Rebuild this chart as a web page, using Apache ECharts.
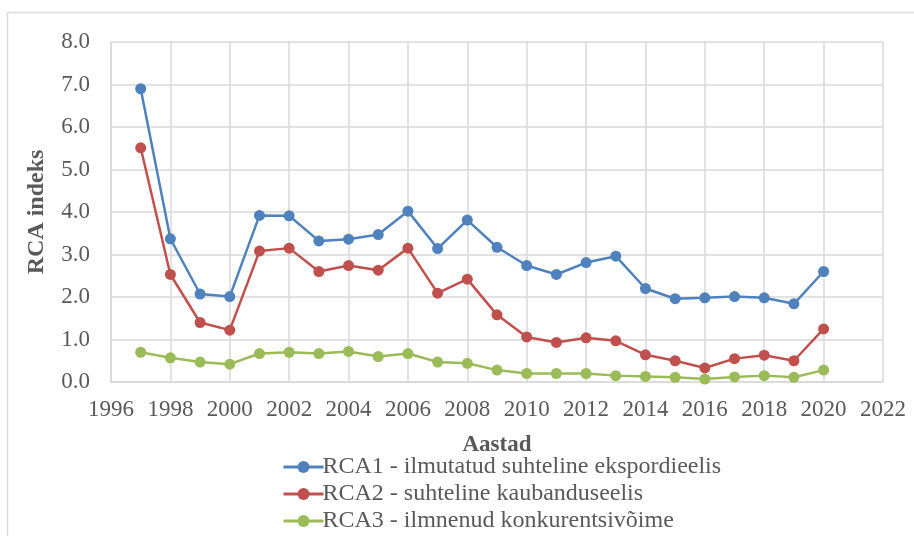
<!DOCTYPE html>
<html>
<head>
<meta charset="utf-8">
<script src="https://cdn.jsdelivr.net/npm/echarts@6/dist/echarts.min.js"></script>
<style>
  html, body { margin: 0; padding: 0; background: #fff; }
  #chart { width: 914px; height: 536px; }
</style>
</head>
<body>
<div id="chart"></div>
<script>
const years = [1997,1998,1999,2000,2001,2002,2003,2004,2005,2006,2007,2008,
  2009,2010,2011,2012,2013,2014,2015,2016,2017,2018,2019,2020]
const rca1 = [6.90,3.37,2.07,2.01,3.92,3.91,3.32,3.36,3.47,4.02,3.14,3.81,
  3.17,2.74,2.53,2.81,2.96,2.20,1.96,1.98,2.01,1.98,1.84,2.60]
const rca2 = [5.51,2.53,1.40,1.22,3.08,3.15,2.60,2.74,2.63,3.15,2.09,2.42,
  1.58,1.06,0.93,1.04,0.97,0.64,0.50,0.33,0.55,0.63,0.50,1.25]
const rca3 = [0.70,0.57,0.47,0.42,0.67,0.70,0.67,0.72,0.60,0.67,0.47,0.44,
  0.28,0.20,0.20,0.20,0.15,0.13,0.11,0.07,0.12,0.15,0.11,0.28]
const names = [
  'RCA1 - ilmutatud suhteline ekspordieelis',
  'RCA2 - suhteline kaubanduseelis',
  'RCA3 - ilmnenud konkurentsivõime'
]
const colors = ['#4F81BD','#C0504D','#9BBB59']

const font = '"Liberation Serif", "Times New Roman", serif'
const gridColor = '#d9d9d9'
const textColor = '#595959'

function makeSeries(name, vals, color){
  return {
    name: name,
    type: 'line',
    data: years.map((y,i)=>[y, vals[i]]),
    symbol: 'circle',
    symbolSize: 11,
    lineStyle: { width: 2.5, color: color },
    itemStyle: { color: color },
    emphasis: { disabled: true },
    animation: false
  }
}

const chart = echarts.init(document.getElementById('chart'))
chart.setOption({
  backgroundColor: '#fff',
  textStyle: { fontFamily: font },
  graphic: [{
    type: 'rect',
    shape: { x: 7.5, y: 12.5, width: 920, height: 540 },
    style: { fill: 'none', stroke: gridColor, lineWidth: 1.5 },
    silent: true
  }],
  grid: { left: 111, top: 42, right: 31, bottom: 154 },
  legend: {
    orient: 'vertical',
    left: 282,
    top: 455,
    width: 600,
    height: 100,
    padding: 0,
    itemWidth: 40,
    itemHeight: 15,
    itemGap: 3,
    lineStyle: { width: 3 },
    textStyle: { fontFamily: font, fontSize: 24, color: textColor, padding: [0,0,0,-6] },
    data: names
  },
  xAxis: {
    type: 'value',
    min: 1996,
    max: 2022,
    interval: 2,
    name: 'Aastad',
    nameLocation: 'middle',
    nameGap: 52,
    nameTextStyle: { fontFamily: font, fontSize: 23, fontWeight: 'bold', color: textColor },
    axisLine: { show: true, lineStyle: { color: gridColor, width: 1.5 } },
    axisTick: { show: false },
    axisLabel: { fontFamily: font, fontSize: 23, color: textColor, margin: 16,
      formatter: v => String(v) },
    splitLine: { show: true, lineStyle: { color: gridColor, width: 1.5 } }
  },
  yAxis: {
    type: 'value',
    min: 0,
    max: 8,
    interval: 1,
    name: 'RCA indeks',
    nameLocation: 'middle',
    nameGap: 62,
    nameRotate: 90,
    nameTextStyle: { fontFamily: font, fontSize: 24, fontWeight: 'bold', color: textColor },
    axisLine: { show: true, lineStyle: { color: gridColor, width: 1.5 } },
    axisTick: { show: false },
    axisLabel: { fontFamily: font, fontSize: 23, color: textColor, margin: 21,
      formatter: v => v.toFixed(1) },
    splitLine: { show: true, lineStyle: { color: gridColor, width: 1.5 } }
  },
  series: [
    makeSeries(names[0], rca1, colors[0]),
    makeSeries(names[1], rca2, colors[1]),
    makeSeries(names[2], rca3, colors[2])
  ]
})
</script>
</body>
</html>
